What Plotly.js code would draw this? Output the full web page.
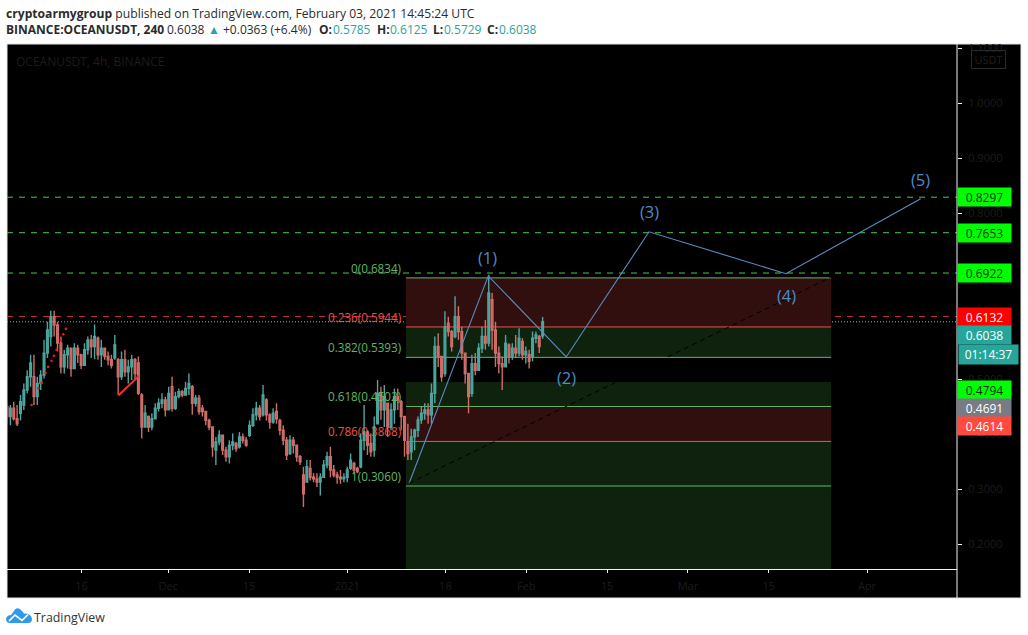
<!DOCTYPE html>
<html><head><meta charset="utf-8">
<script src="https://cdn.plot.ly/plotly-3.0.1.min.js"></script>
<style>html,body{margin:0;padding:0;background:#fff}#c{width:1028px;height:635px}</style></head>
<body><div id="c"></div>
<script>
const candleStart = '2020-11-03T02:00:00Z';
const candleStepHours = 14;
const candleHigh = [
.459,.453,.459,.453,.471,.492,.516,.544,.544,.504,
.516,.571,.604,.624,.624,.604,.577,.553,.562,.550,
.565,.562,.546,.565,.577,.580,.599,.577,.571,.556,
.550,.544,.580,.538,.550,.553,.535,.544,.538,.541,
.474,.453,.434,.438,.456,.465,.474,.468,.486,.504,
.477,.483,.480,.495,.510,.489,.471,.471,.453,.441,
.428,.413,.395,.407,.395,.377,.389,.401,.386,.404,
.401,.395,.425,.447,.459,.453,.489,.465,.438,.447,
.456,.428,.416,.395,.398,.395,.377,.362,
.341,.353,.353,.329,.329,.329,.353,.368,.377,.344,.332,.335,.329,.341,.365,.350,.341,.401,.453,.407,.401,.432,
.498,.486,.489,.456,.456,.483,.483,.462,.432,.419,.410,.410,.432,.450,.456,.456,.492,.577,.583,.541,
.623,.613,.589,.650,.632,.595,.547,.510,.544,.547,.565,.595,.607,.689,.656,.604,.559,.541,.580,.565,
.565,.580,.592,.574,.559,.553,.586,.586,.580,.6125];
const candleLow = [
.419,.416,.425,.415,.425,.444,.474,.486,.453,.453,
.480,.501,.538,.559,.577,.550,.510,.510,.519,.504,
.519,.529,.518,.532,.544,.538,.536,.535,.522,.535,
.525,.519,.535,.471,.498,.504,.492,.498,.498,.471,
.392,.413,.404,.407,.428,.441,.447,.432,.444,.441,
.444,.465,.467,.471,.471,.435,.450,.435,.432,.416,
.407,.359,.344,.380,.362,.350,.347,.371,.368,.374,
.383,.377,.395,.413,.425,.425,.432,.425,.410,.419,
.419,.398,.380,.353,.362,.365,.350,.344,
.268,.313,.316,.313,.304,.289,.322,.338,.322,.322,.310,.310,.313,.313,.335,.329,.329,.338,.371,.362,.359,.359,
.419,.426,.413,.395,.407,.419,.444,.407,.359,.353,.353,.371,.395,.419,.426,.419,.419,.456,.522,.495,
.504,.577,.550,.574,.571,.535,.492,.438,.468,.507,.516,.547,.553,.559,.553,.522,.510,.480,.522,.528,
.535,.538,.541,.535,.528,.519,.532,.565,.547,.5729];
const candleOpen = [
.450,.432,.447,.428,.438,.453,.480,.504,.504,.468,
.492,.507,.547,.577,.613,.598,.565,.522,.544,.556,
.519,.556,.544,.525,.553,.571,.559,.574,.544,.556,
.541,.535,.538,.535,.504,.535,.513,.522,.535,.529,
.471,.413,.432,.413,.428,.447,.456,.462,.444,.486,
.447,.468,.477,.471,.483,.486,.456,.465,.447,.441,
.425,.413,.371,.386,.398,.371,.359,.380,.383,.377,
.395,.389,.398,.416,.435,.447,.435,.462,.435,.422,
.441,.425,.407,.389,.365,.389,.380,.359,
.326,.313,.338,.322,.319,.313,.322,.344,.359,.335,.326,.322,.319,.322,.338,.347,.338,.341,.389,.404,.383,.371,
.419,.474,.444,.456,.413,.444,.468,.459,.432,.386,.368,.395,.407,.426,.438,.444,.435,.474,.559,.541,
.510,.601,.586,.577,.613,.586,.547,.510,.474,.528,.516,.556,.577,.565,.644,.589,.547,.528,.522,.562,
.541,.556,.547,.568,.544,.544,.541,.574,.577,.5785];
const candleClose = [
.432,.447,.428,.419,.459,.480,.504,.529,.468,.492,
.507,.547,.589,.613,.598,.565,.522,.544,.556,.519,
.556,.544,.525,.553,.571,.559,.577,.544,.556,.541,
.535,.525,.562,.504,.535,.513,.522,.535,.510,.474,
.413,.438,.413,.428,.447,.456,.462,.444,.474,.447,
.468,.477,.471,.483,.492,.456,.465,.441,.441,.425,
.413,.377,.386,.398,.371,.359,.380,.386,.374,.395,
.389,.380,.416,.435,.447,.432,.471,.435,.422,.438,
.428,.407,.389,.362,.389,.380,.359,.350,
.292,.341,.322,.319,.313,.322,.344,.359,.335,.326,.322,.319,.322,.335,.353,.335,.332,.389,.404,.380,.368,.413,
.474,.444,.468,.413,.444,.468,.462,.432,.389,.365,.395,.407,.426,.438,.444,.435,.474,.559,.541,.504,
.595,.586,.559,.613,.586,.547,.510,.468,.528,.516,.556,.577,.565,.656,.589,.547,.528,.522,.565,.541,
.556,.547,.574,.544,.550,.532,.574,.580,.559,.6038];

const xRange = ['2020-11-03 02:00','2021-04-16 14:00'];
const yRange = [0.1555,1.1075];
const xTickDates = ['2020-11-16','2020-12-01','2020-12-15','2021-01-01','2021-01-18','2021-02-01','2021-02-15','2021-03-01','2021-03-15','2021-04-01'];
const xTickText = ['16','Dec','15','2021','18','Feb','15','Mar','15','Apr'];
const yTicks = [0.2,0.3,0.4,0.5,0.6,0.7,0.8,0.9,1.0,1.1];
const yTickText = ['0.2000','0.3000','0.4000','0.5000','','','0.8000','0.9000','1.0000','1.1000'];

const wavePrice = [0.311,0.687,0.54,0.767,0.691,0.827];
const waveDate = ['2021-01-11 17:00','2021-01-25 10:00','2021-02-07 22:00','2021-02-22 06:00','2021-03-17 23:00','2021-04-10 07:00'];
const waveText = ['(1)','(2)','(3)','(4)','(5)'];
const waveTextDate = ['2021-01-25 05:00','2021-02-08 01:00','2021-02-22 10:00','2021-03-18 02:00','2021-04-10 07:00'];
const waveTextPrice = [0.72,0.502,0.804,0.651,0.862];

const fibStart = '2021-01-11 04:00', fibEnd = '2021-03-25 19:00';
const fibPrice = [0.6834,0.5944,0.5393,0.4502,0.3868,0.3060];
const fibText = ['0(0.6834)','0.236(0.5944)','0.382(0.5393)','0.618(0.4502)','0.786(0.3868)','1(0.3060)'];
const fibColor = ['#62b562','#f0504a','#62b562','#62b562','#f0504a','#62b562'];
const fibBandTop = [0.6834,0.5944,0.4947,0.4502,0.3868,0.3060];
const fibBandBottom = [0.5944,0.5393,0.4502,0.3868,0.3060,0.1555];
const fibBandColor = ['#320f0f','#0e220e','#0e220e','#320f0f','#0e220e','#0e220e'];

const greenLevels = [0.8297,0.7653,0.6922];
const redLevel = 0.6132, lastLevel = 0.6038;

const priceLabels = ['0.8297','0.7653','0.6922','0.6132','0.6038','0.4794','0.4691','0.4614'];
const priceLabelValue = [0.8297,0.7653,0.6922,0.6132,0.6038,0.4794,0.4691,0.4614];
const priceLabelShift = [0,0,0,0,-13,0,-12,-26];
const priceLabelBg = ['#00ff00','#00ff00','#00ff00','#ff0000','#26a69a','#00ff00','#787b86','#ff4a3d'];
const priceLabelFg = ['#0c2e0c','#0c2e0c','#0c2e0c','#ffffff','#ffffff','#0c2e0c','#ffffff','#ffffff'];

const dotDate = ['2020-11-07 08:00','2020-11-08 12:00','2020-11-09 02:00','2020-11-09 18:00','2020-11-10 05:00','2020-11-10 19:00','2020-11-11 05:00','2020-11-11 16:00','2020-11-12 10:00','2020-11-12 20:00','2020-11-13 07:00'];
const dotPrice = [.453,.483,.493,.511,.522,.533,.542,.553,.571,.581,.591];
const redSegDate = ['2020-11-22 09:00','2020-11-25 23:00'];
const redSegPrice = [.470,.506];

const headerSegments = ['0.6038','▲','+0.0363 (+6.4%)','O:','0.5785','H:','0.6125','L:','0.5729','C:','0.6038'];
const headerSegmentX = [167,208,223,319,333,377,390,433,444,487,499];
const headerSegmentStyle = ['p','t','p','b','t','b','t','b','t','b','t'];

const candleDates = candleClose.map((_, i) => new Date(Date.parse(candleStart) + i*candleStepHours*3600000).toISOString());

const W=950,H=525,L=7,T=44;
const fx = p => (p-L)/W, fy = p => (T+H-p)/H;
const tf = '"Open Sans", sans-serif';

const shapes = [];
shapes.push({type:'rect',xref:'paper',yref:'paper',x0:fx(7),x1:fx(1021),y0:fy(598),y1:fy(44),fillcolor:'#000',line:{color:'#e4e4e4',width:1},layer:'below'});
fibBandTop.forEach((t,i)=>shapes.push({type:'rect',xref:'x',yref:'y',x0:fibStart,x1:fibEnd,y0:fibBandBottom[i],y1:t,fillcolor:fibBandColor[i],line:{width:0},layer:'below'}));
fibPrice.forEach((p,i)=>shapes.push({type:'line',xref:'x',yref:'y',x0:fibStart,x1:fibEnd,y0:p,y1:p,line:{color:fibColor[i],width:1},layer:'below'}));
greenLevels.forEach(p=>shapes.push({type:'line',xref:'paper',yref:'y',x0:0,x1:1,y0:p,y1:p,line:{color:'#48c848',width:1,dash:'6px,6px'},layer:'below'}));
shapes.push({type:'line',xref:'paper',yref:'y',x0:0,x1:1,y0:redLevel,y1:redLevel,line:{color:'#c8383a',width:1,dash:'6px,6px'},layer:'below'});
shapes.push({type:'line',xref:'paper',yref:'y',x0:0,x1:1,y0:lastLevel,y1:lastLevel,line:{color:'#7fb8a8',width:1,dash:'1px,2px'},layer:'below'});
shapes.push({type:'line',xref:'x',yref:'y',x0:waveDate[0],x1:fibEnd,y0:wavePrice[0],y1:0.685,line:{color:'#000',width:1,dash:'5px,4px'}});
shapes.push({type:'line',xref:'paper',yref:'paper',x0:1,x1:1,y0:fy(598),y1:fy(44),line:{color:'#f0f3fa',width:1}});
const P = (x,y) => fx(x)+','+fy(y);
shapes.push({type:'path',xref:'paper',yref:'paper',
  path:'M'+P(6,619)+' Q'+P(7,615)+' '+P(11,615)+' L'+P(15,609.5)+' Q'+P(18,607)+' '+P(21,610)+' L'+P(24,613.5)+' Q'+P(31,613)+' '+P(32,619)+' Q'+P(32,623)+' '+P(28,623)+' L'+P(10,623)+' Q'+P(6,623)+' '+P(6,619)+' Z',
  fillcolor:'#2f9be8',line:{width:0}});
shapes.push({type:'path',xref:'paper',yref:'paper',path:'M'+[[9,621],[15,615],[22,620.5],[28,614.5]].map(q=>P(q[0],q[1])).join(' L'),line:{color:'#ffffff',width:1.6}});

const ann = [];
const A = o => ann.push(Object.assign({showarrow:false},o));
fibText.forEach((t,i)=>A({xref:'x',yref:'y',x:fibStart,y:fibPrice[i],xanchor:'right',yanchor:'bottom',xshift:-3,text:t,font:{family:tf,size:11.7,color:fibColor[i]}}));
waveText.forEach((t,i)=>A({xref:'x',yref:'y',x:waveTextDate[i],y:waveTextPrice[i],text:t,xanchor:'center',yanchor:'middle',font:{family:tf,size:16.5,color:'#4f8bc9'}}));
priceLabels.forEach((t,i)=>A({xref:'paper',yref:'y',x:1,y:priceLabelValue[i],yshift:priceLabelShift[i],xanchor:'left',yanchor:'middle',width:53,height:18,borderpad:0,bgcolor:priceLabelBg[i],text:t,align:'center',valign:'middle',font:{family:tf,size:12,color:priceLabelFg[i]}}));
A({xref:'paper',yref:'paper',x:fx(958),y:fy(354.5),xanchor:'left',yanchor:'middle',width:59,height:19,borderpad:0,bgcolor:'#26a69a',text:'01:14:37',font:{family:tf,size:12,color:'#ffffff'}});
A({xref:'paper',yref:'paper',x:fx(971),y:fy(50),xanchor:'left',yanchor:'top',width:33,height:17,borderpad:0,bordercolor:'#2a2a2a',borderwidth:1,text:'USDT',font:{family:tf,size:11,color:'#1f1f1f'}});
A({xref:'paper',yref:'paper',x:fx(14),y:fy(61),xanchor:'left',yanchor:'middle',text:'OCEANUSDT, 4h, BINANCE',font:{family:tf,size:12,color:'#1c1c1c'}});
A({xref:'paper',yref:'paper',x:fx(4),y:fy(13),xanchor:'left',yanchor:'middle',text:'<b>cryptoarmygroup</b> published on TradingView.com, February 03, 2021 14:45:24 UTC',font:{family:tf,size:12.13,color:'#2b2b2b'}});
A({xref:'paper',yref:'paper',x:fx(4),y:fy(29.5),xanchor:'left',yanchor:'middle',text:'<b>BINANCE:OCEANUSDT, 240</b>',font:{family:tf,size:12,color:'#2b2b2b'}});
headerSegments.forEach((s,i)=>{
  const st = headerSegmentStyle[i];
  A({xref:'paper',yref:'paper',x:fx(headerSegmentX[i]-2),y:fy(29.5),xanchor:'left',yanchor:'middle',text:st==='b'?'<b>'+s+'</b>':s,font:{family:tf,size:12,color:st==='t'?'#26a69a':'#2b2b2b'}});
});
A({xref:'paper',yref:'paper',x:fx(32),y:fy(617),xanchor:'left',yanchor:'middle',text:'TradingView',font:{family:tf,size:12.4,color:'#333'}});

const traces = [
 {type:'candlestick',x:candleDates,open:candleOpen,high:candleHigh,low:candleLow,close:candleClose,whiskerwidth:0,
  increasing:{line:{color:'#4fa59d',width:1.4},fillcolor:'#26a69a'},decreasing:{line:{color:'#cf6d6a',width:1.4},fillcolor:'#ef5350'},hoverinfo:'skip',showlegend:false},
 {type:'scatter',mode:'markers',x:dotDate,y:dotPrice,marker:{color:'#e02020',size:2.6},hoverinfo:'skip',showlegend:false},
 {type:'scatter',mode:'lines',x:redSegDate,y:redSegPrice,line:{color:'#f23030',width:2},hoverinfo:'skip',showlegend:false},
 {type:'scatter',mode:'lines',x:waveDate,y:wavePrice,line:{color:'#5a8cc0',width:1.1},hoverinfo:'skip',showlegend:false}
];
const layout = {
 width:1028,height:635,autosize:false,showlegend:false,hovermode:false,
 margin:{l:7,r:71,t:44,b:66,pad:0},paper_bgcolor:'#ffffff',plot_bgcolor:'#000000',
 xaxis:{type:'date',range:xRange,tickmode:'array',tickvals:xTickDates,ticktext:xTickText,showgrid:false,zeroline:false,
   showline:true,linecolor:'#f0f3fa',linewidth:1,ticks:'outside',ticklen:3,tickcolor:'#f0f3fa',ticklabelstandoff:4,
   tickfont:{family:tf,size:11,color:'#1c1c1c'},rangeslider:{visible:false},fixedrange:true},
 yaxis:{range:yRange,side:'right',tickmode:'array',tickvals:yTicks,ticktext:yTickText,showgrid:false,zeroline:false,
   showline:false,ticks:'outside',ticklen:4,tickcolor:'#f0f3fa',ticklabelstandoff:4,
   tickfont:{family:tf,size:11,color:'#1c1c1c'},fixedrange:true},
 shapes:shapes,annotations:ann
};
Plotly.newPlot('c',traces,layout,{displayModeBar:false,staticPlot:true});
</script></body></html>
